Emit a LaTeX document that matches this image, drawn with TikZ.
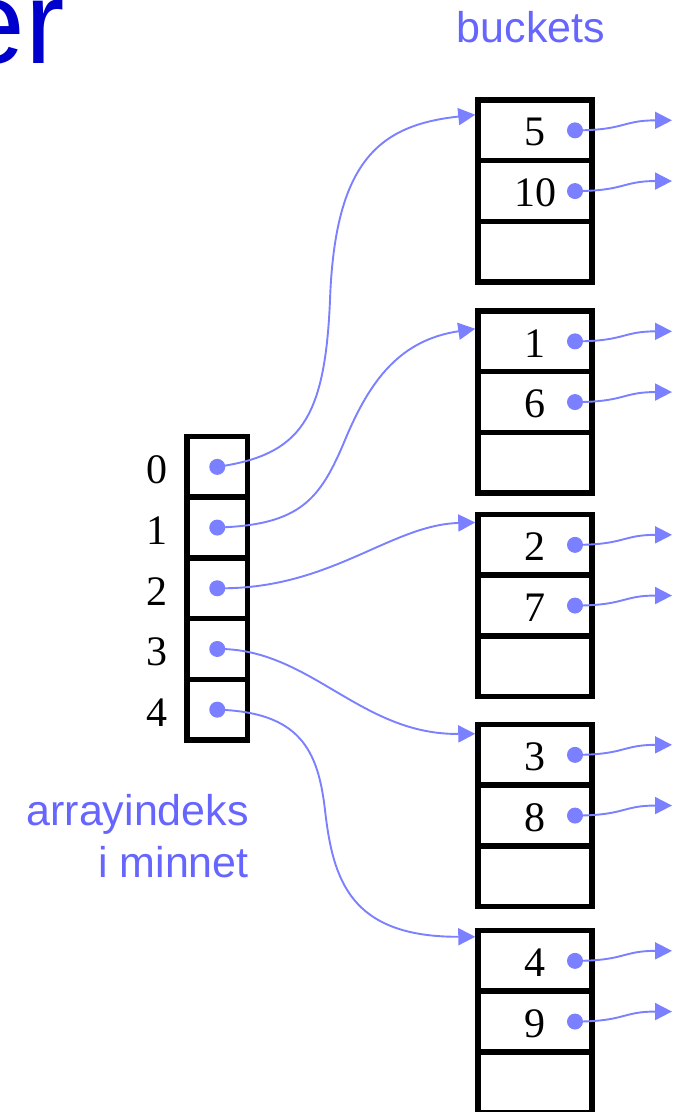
\documentclass[tikz,border=0pt]{standalone}
\usepackage{fontspec}
\setmainfont{Liberation Serif}
\setsansfont{Liberation Sans}
\usetikzlibrary{arrows.meta}

\definecolor{ptrblue}{RGB}{122,128,255}
\definecolor{capblue}{RGB}{102,102,255}
\definecolor{titleblue}{RGB}{0,0,204}

\begin{document}
\begin{tikzpicture}[x=1pt,y=-1pt,
  cell/.style={draw, line width=5.5pt, minimum width=60.5pt, minimum height=60.7pt, inner sep=0pt},
  bcell/.style={draw, line width=5.5pt, minimum width=114pt, minimum height=60.7pt, inner sep=0pt},
  dot/.style={circle, fill=ptrblue, minimum size=16pt, inner sep=0pt},
  num/.style={font=\fontsize{42}{42}\selectfont, inner sep=0pt},
  captext/.style={font=\sffamily\fontsize{43}{50}\selectfont, text=capblue, inner sep=0pt},
  ptr/.style={draw=ptrblue, line width=1.9pt, -{Triangle[length=17pt,width=17pt]}}
]
\useasboundingbox (0,0) rectangle (675,1112);
\clip (0,0) rectangle (675,1112);

% heading (tail of the slide title) and captions
\node[font=\sffamily\fontsize{118}{118}\selectfont, text=titleblue, inner sep=0pt, anchor=base east] (title) at (65,63) {er};
\node[captext, anchor=base] (capb) at (531,42) {buckets};
\node[captext, anchor=base east] (capa1) at (249,825) {arrayindeks};
\node[captext, anchor=base east] (capa2) at (249,877) {i minnet};

% array of references, indices 0..4
\foreach \i in {0,...,4}{
  \node[cell] (a\i) at (217.25,466.85+60.7*\i) {};
  \node[num] (l\i) at ([xshift=-60pt,yshift=-3pt]a\i.center) {\i};
  \node[dot] (da\i) at (a\i.center) {};
}

% buckets with two entries and an empty slot each
\foreach \j/\ty/\va/\vb in {0/100/5/10,1/311/1/6,2/514.5/2/7,3/724.5/3/8,4/930.5/4/9}{
  \node[bcell] (b\j0) at (535,\ty+30.35) {};
  \node[bcell] (b\j1) at (535,\ty+91.05) {};
  \node[bcell] (b\j2) at (535,\ty+151.75) {};
  \node[num] (n\j0) at ([yshift=-2pt]b\j0.center) {\va};
  \node[num] (n\j1) at ([yshift=-2pt]b\j1.center) {\vb};
  \node[dot] (d\j0) at ([xshift=40pt]b\j0.center) {};
  \node[dot] (d\j1) at ([xshift=40pt]b\j1.center) {};
  \coordinate (o\j0) at ([xshift=137pt,yshift=10pt]b\j0.center);
  \coordinate (o\j1) at ([xshift=137pt,yshift=10pt]b\j1.center);
  \draw[ptr] (d\j0.center) .. controls +(50,0) and +(-50,0) .. (o\j0);
  \draw[ptr] (d\j1.center) .. controls +(50,0) and +(-50,0) .. (o\j1);
}

% references from the array into the buckets
\draw[ptr] (da0.center) .. controls (300,455) and (325,420) .. (330,300)
  .. controls (335,160) and (380,125) .. ([yshift=-17.5pt]b00.north west);
\draw[ptr] (da1.center) .. controls (300,525) and (320,500) .. (345,440)
  .. controls (370,380) and (400,340) .. ([yshift=-20.5pt]b10.north west);
\draw[ptr] (da2.center) .. controls (330,590) and (390,525) .. ([yshift=-10.7pt]b20.north west);
\draw[ptr] (da3.center) .. controls (310,648) and (360,735) .. ([yshift=-12pt]b30.north west);
\draw[ptr] (da4.center) .. controls (300,712) and (318,750) .. (325,810)
  .. controls (333,880) and (350,937) .. ([yshift=-9pt]b40.north west);
\end{tikzpicture}
\end{document}
